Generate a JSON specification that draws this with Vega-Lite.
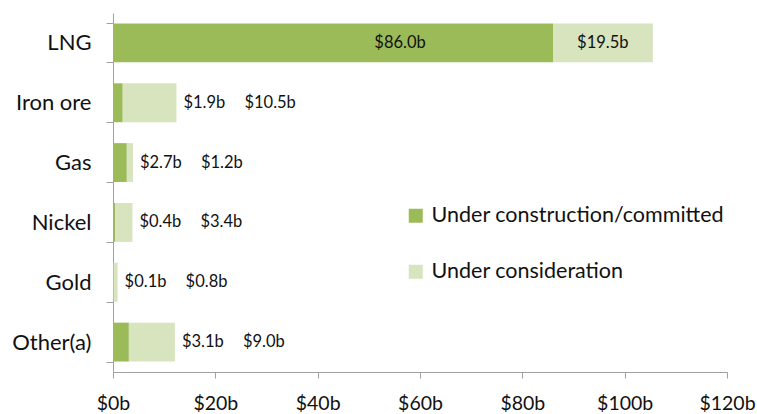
{
  "$schema": "https://vega.github.io/schema/vega-lite/v6.json",
  "width": 614,
  "height": 359,
  "autosize": {"type": "none"},
  "padding": {"left": 113, "top": 13, "right": 30, "bottom": 42},
  "background": "white",
  "config": {"view": {"stroke": null}, "font": "Lato", "text": {"font": "Lato"}},
  "data": {
    "values": [
      {"category": "LNG", "status": "Under construction/committed", "value": 86.0},
      {"category": "LNG", "status": "Under consideration", "value": 19.5},
      {"category": "Iron ore", "status": "Under construction/committed", "value": 1.9},
      {"category": "Iron ore", "status": "Under consideration", "value": 10.5},
      {"category": "Gas", "status": "Under construction/committed", "value": 2.7},
      {"category": "Gas", "status": "Under consideration", "value": 1.2},
      {"category": "Nickel", "status": "Under construction/committed", "value": 0.4},
      {"category": "Nickel", "status": "Under consideration", "value": 3.4},
      {"category": "Gold", "status": "Under construction/committed", "value": 0.1},
      {"category": "Gold", "status": "Under consideration", "value": 0.8},
      {"category": "Other(a)", "status": "Under construction/committed", "value": 3.1},
      {"category": "Other(a)", "status": "Under consideration", "value": 9.0}
    ]
  },
  "transform": [
    {"calculate": "indexof(['Under construction/committed','Under consideration'], datum.status)", "as": "ord"},
    {"joinaggregate": [{"op": "sum", "field": "value", "as": "total"}], "groupby": ["category"]},
    {"calculate": "'$' + format(datum.value, '.1f') + 'b'", "as": "label"}
  ],
  "encoding": {
    "y": {
      "field": "category",
      "type": "nominal",
      "sort": ["LNG", "Iron ore", "Gas", "Nickel", "Gold", "Other(a)"],
      "scale": {"paddingInner": 0.35, "paddingOuter": 0.175},
      "axis": {
        "title": null,
        "tickBand": "extent",
        "tickSize": 7,
        "tickColor": "#a0a0a0",
        "domainColor": "#a0a0a0",
        "labelFontSize": 22,
        "labelColor": "#111111",
        "labelPadding": 15
      }
    }
  },
  "layer": [
    {
      "mark": {"type": "bar"},
      "encoding": {
        "x": {
          "field": "value",
          "type": "quantitative",
          "stack": "zero",
          "scale": {"domain": [0, 120], "nice": false},
          "axis": {
            "title": null,
            "values": [0, 20, 40, 60, 80, 100, 120],
            "labelExpr": "'$' + datum.value + 'b'",
            "labelFlush": false,
            "labelOverlap": false,
            "labelBound": false,
            "grid": false,
            "tickSize": 6,
            "tickColor": "#a0a0a0",
            "domainColor": "#a0a0a0",
            "labelFontSize": 19.5,
            "labelColor": "#111111",
            "labelPadding": 16
          }
        },
        "color": {
          "field": "status",
          "type": "nominal",
          "sort": ["Under construction/committed", "Under consideration"],
          "scale": {"domain": ["Under construction/committed", "Under consideration"], "range": ["#9bbb59", "#d7e4bd"]},
          "legend": {
            "title": null,
            "orient": "none",
            "legendX": 292,
            "legendY": 192,
            "padding": 0,
            "symbolType": "square",
            "symbolSize": 196,
            "symbolStrokeWidth": 0,
            "labelFontSize": 21.5,
            "labelLimit": 400,
            "labelColor": "#111111",
            "labelOffset": 5,
            "rowPadding": 33
          }
        },
        "order": {"field": "ord", "type": "quantitative"}
      }
    },
    {
      "transform": [{"filter": "datum.category === 'LNG' && datum.ord === 0"}],
      "mark": {"type": "text", "align": "center", "baseline": "middle", "dx": -153, "fontSize": 16.5, "color": "#111111"},
      "encoding": {"x": {"field": "value", "type": "quantitative"}, "text": {"field": "label"}}
    },
    {
      "transform": [{"filter": "datum.category === 'LNG' && datum.ord === 1"}],
      "mark": {"type": "text", "align": "center", "baseline": "middle", "dx": -50, "fontSize": 16.5, "color": "#111111"},
      "encoding": {"x": {"field": "total", "type": "quantitative"}, "text": {"field": "label"}}
    },
    {
      "transform": [{"filter": "datum.category !== 'LNG' && datum.ord === 0"}],
      "mark": {"type": "text", "align": "left", "baseline": "middle", "dx": 7, "fontSize": 16.5, "color": "#111111"},
      "encoding": {"x": {"field": "total", "type": "quantitative"}, "text": {"field": "label"}}
    },
    {
      "transform": [{"filter": "datum.category !== 'LNG' && datum.ord === 1"}],
      "mark": {"type": "text", "align": "left", "baseline": "middle", "dx": 68, "fontSize": 16.5, "color": "#111111"},
      "encoding": {"x": {"field": "total", "type": "quantitative"}, "text": {"field": "label"}}
    }
  ]
}
